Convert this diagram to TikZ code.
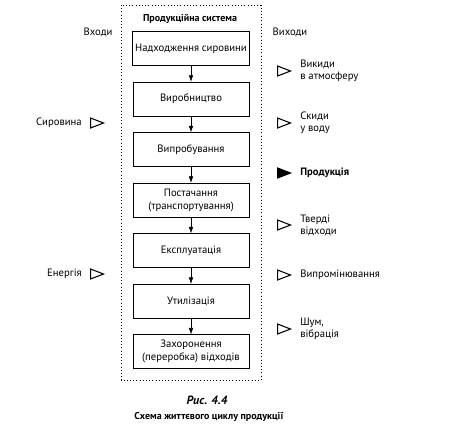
\documentclass[tikz,border=0pt]{standalone}
\usepackage{fontspec}
\setmainfont{PT Sans}
\usetikzlibrary{arrows.meta,positioning,shapes.geometric}
\tikzset{
  stagebox/.style={
    draw,
    align=center,
    minimum height=25.5pt,
    minimum width=87pt,
    inner sep=2pt,
    font=\fontsize{8}{9.5}\selectfont
  },
  stagearrow/.style={-{Latex[length=1.7mm,width=1.2mm]}, thin},
  flowmark/.style={
    draw, thick,
    isosceles triangle,
    isosceles triangle apex angle=42,
    inner sep=0pt,
    minimum height=9.75pt,
    anchor=west
  },
  flowlabel/.style={align=left, inner sep=0pt, font=\fontsize{8}{9}\selectfont},
  headlabel/.style={inner sep=0pt, font=\fontsize{8}{9}\selectfont}
}

\begin{document}
\begin{tikzpicture}[x=0.75pt, y=-0.75pt, node distance=12pt]
  \useasboundingbox (0,0) rectangle (460,433);
  \draw[dash pattern=on 0.8pt off 1.6pt] (121,5) rectangle (261,380);

  \node[headlabel, font=\fontsize{7.5}{9}\selectfont\bfseries] (system) at (190,19) {Продукційна система};
  \node[headlabel] (inputs) at (98,32) {Входи};
  \node[headlabel] (outputs) at (290,32) {Виходи};

  \node[stagebox] (supply) at (191,48.5) {Надходження сировини};
  \node[stagebox, below=of supply] (making) {Виробництво};
  \node[stagebox, below=of making] (testing) {Випробування};
  \node[stagebox, below=of testing] (delivery) {Постачання\\(транспортування)};
  \node[stagebox, below=of delivery] (usage) {Експлуатація};
  \node[stagebox, below=of usage] (recycling) {Утилізація};
  \node[stagebox, below=of recycling] (burial) {Захоронення\\(переробка) відходів};

  \draw[stagearrow] (supply) -- (making);
  \draw[stagearrow] (making) -- (testing);
  \draw[stagearrow] (testing) -- (delivery);
  \draw[stagearrow] (delivery) -- (usage);
  \draw[stagearrow] (usage) -- (recycling);
  \draw[stagearrow] (recycling) -- (burial);

  % входи
  \node[flowmark] (rawin) at (90,123) {};
  \node[flowlabel, left=6pt of rawin] (rawtext) {Сировина};
  \node[flowmark] (energyin) at (90,274) {};
  \node[flowlabel, left=6pt of energyin] (energytext) {Енергія};

  % виходи
  \node[flowmark] (airout) at (277,71) {};
  \node[flowlabel, right=6pt of airout.apex] (airtext) {Викиди\\в атмосферу};
  \node[flowmark] (waterout) at (277,123) {};
  \node[flowlabel, right=6pt of waterout.apex] (watertext) {Скиди\\у воду};
  \node[flowmark, fill=black] (productout) at (277,173) {};
  \node[flowlabel, right=6pt of productout.apex, font=\fontsize{8}{9}\selectfont\bfseries] (producttext) {Продукція};
  \node[flowmark] (solidout) at (277,225) {};
  \node[flowlabel, right=6pt of solidout.apex] (solidtext) {Тверді\\відходи};
  \node[flowmark] (radout) at (277,275) {};
  \node[flowlabel, right=6pt of radout.apex] (radtext) {Випромінювання};
  \node[flowmark] (noiseout) at (277,329) {};
  \node[flowlabel, right=6pt of noiseout.apex] (noisetext) {Шум,\\вібрація};

  \node[headlabel, font=\fontsize{9}{10}\selectfont\bfseries\itshape] (fignum) at (207,400) {Рис. 4.4};
  \node[headlabel, font=\fontsize{7.5}{9}\selectfont\bfseries] (caption) at (209,417) {Схема життєвого циклу продукції};
\end{tikzpicture}
\end{document}
